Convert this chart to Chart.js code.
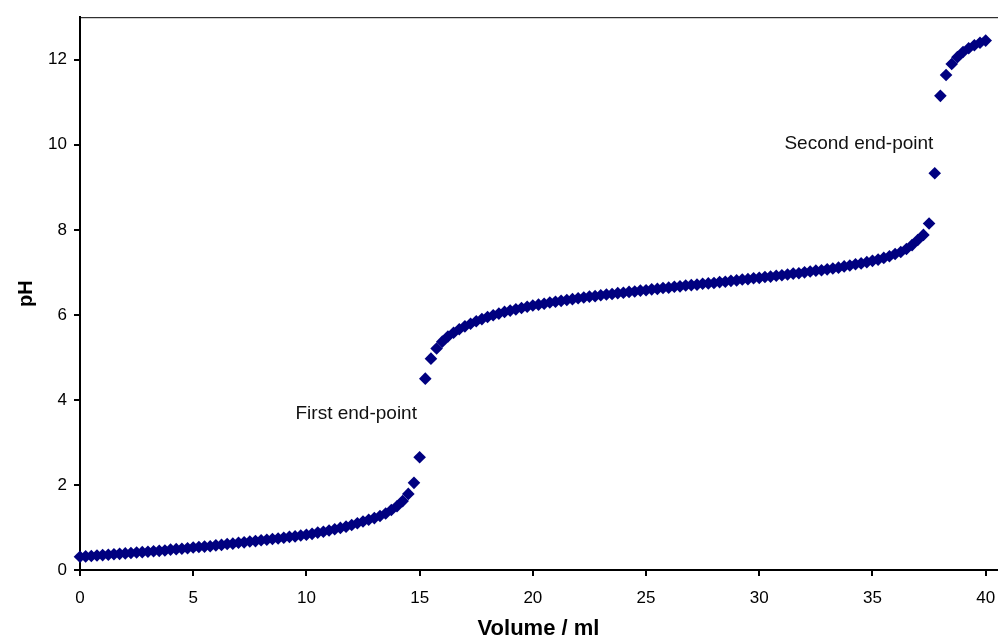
<!DOCTYPE html>
<html>
<head>
<meta charset="utf-8">
<title>pH titration curve</title>
<script src="https://cdn.jsdelivr.net/npm/chart.js@4/dist/chart.umd.min.js"></script>
<style>
  html, body { margin: 0; padding: 0; background: #fff; }
  #titration { display: block; }
</style>
</head>
<body>
<canvas id="titration" width="998" height="639"></canvas>
<script>
// volume of titrant added (ml)
const volumes = [
  0, 0.25, 0.5, 0.75, 1, 1.25, 1.5, 1.75, 2, 2.25, 2.5, 2.75, 3, 3.25, 3.5, 3.75,
  4, 4.25, 4.5, 4.75, 5, 5.25, 5.5, 5.75, 6, 6.25, 6.5, 6.75, 7, 7.25, 7.5, 7.75,
  8, 8.25, 8.5, 8.75, 9, 9.25, 9.5, 9.75, 10, 10.25, 10.5, 10.75, 11, 11.25, 11.5, 11.75,
  12, 12.25, 12.5, 12.75, 13, 13.25, 13.5, 13.75, 14, 14.25, 14.5, 14.75, 15, 15.25, 15.5, 15.75,
  16, 16.25, 16.5, 16.75, 17, 17.25, 17.5, 17.75, 18, 18.25, 18.5, 18.75, 19, 19.25, 19.5, 19.75,
  20, 20.25, 20.5, 20.75, 21, 21.25, 21.5, 21.75, 22, 22.25, 22.5, 22.75, 23, 23.25, 23.5, 23.75,
  24, 24.25, 24.5, 24.75, 25, 25.25, 25.5, 25.75, 26, 26.25, 26.5, 26.75, 27, 27.25, 27.5, 27.75,
  28, 28.25, 28.5, 28.75, 29, 29.25, 29.5, 29.75, 30, 30.25, 30.5, 30.75, 31, 31.25, 31.5, 31.75,
  32, 32.25, 32.5, 32.75, 33, 33.25, 33.5, 33.75, 34, 34.25, 34.5, 34.75, 35, 35.25, 35.5, 35.75,
  36, 36.25, 36.5, 36.75, 37, 37.25, 37.5, 37.75, 38, 38.25, 38.5, 38.75, 39, 39.25, 39.5, 39.75,
  40
];

// measured pH at each volume
const phValues = [
  0.31, 0.32, 0.33, 0.34, 0.35, 0.36, 0.37, 0.38, 0.39, 0.40, 0.41, 0.42, 0.43, 0.44, 0.45, 0.46,
  0.48, 0.49, 0.50, 0.51, 0.53, 0.54, 0.55, 0.56, 0.58, 0.59, 0.61, 0.62, 0.64, 0.65, 0.67, 0.68,
  0.70, 0.71, 0.73, 0.74, 0.76, 0.78, 0.79, 0.81, 0.83, 0.85, 0.88, 0.90, 0.93, 0.96, 0.99, 1.02,
  1.06, 1.10, 1.14, 1.18, 1.22, 1.27, 1.33, 1.41, 1.50, 1.62, 1.79, 2.05, 2.65, 4.50, 4.97, 5.21,
  5.37, 5.49, 5.58, 5.66, 5.73, 5.79, 5.85, 5.90, 5.95, 5.99, 6.03, 6.07, 6.10, 6.13, 6.16, 6.19,
  6.22, 6.24, 6.26, 6.29, 6.31, 6.33, 6.35, 6.37, 6.39, 6.41, 6.43, 6.44, 6.46, 6.48, 6.49, 6.51,
  6.52, 6.54, 6.55, 6.57, 6.58, 6.60, 6.61, 6.63, 6.64, 6.66, 6.67, 6.69, 6.70, 6.71, 6.73, 6.74,
  6.75, 6.77, 6.78, 6.80, 6.81, 6.83, 6.84, 6.86, 6.87, 6.89, 6.90, 6.92, 6.93, 6.95, 6.97, 6.98,
  7.00, 7.02, 7.04, 7.05, 7.07, 7.09, 7.11, 7.14, 7.16, 7.19, 7.21, 7.24, 7.27, 7.30, 7.34, 7.38,
  7.43, 7.48, 7.55, 7.64, 7.76, 7.88, 8.15, 9.33, 11.15, 11.64, 11.90, 12.06, 12.18, 12.27, 12.34, 12.40,
  12.45
];

const xTicks = [0, 5, 10, 15, 20, 25, 30, 35, 40];
const yTicks = [0, 2, 4, 6, 8, 10, 12];

// text labels placed in data coordinates
const noteTexts = ["First end-point", "Second end-point"];
const noteX = [12.2, 34.4];
const noteY = [3.67, 10.03];

const FONT = "'Liberation Sans', Arial, Helvetica, sans-serif";
const NAVY = "#000080";

const points = volumes.map((v, i) => ({ x: v, y: phValues[i] }));

// thin line along the top of the plot area
const topBorder = {
  id: "topBorder",
  beforeDatasetsDraw(chart) {
    const { ctx, chartArea } = chart;
    ctx.save();
    ctx.strokeStyle = "#000";
    ctx.lineWidth = 1;
    ctx.beginPath();
    ctx.moveTo(chartArea.left, chartArea.top + 0.5);
    ctx.lineTo(chart.width, chartArea.top + 0.5);
    ctx.stroke();
    ctx.restore();
  },
};

// end-point notes
const notes = {
  id: "notes",
  afterDatasetsDraw(chart) {
    const { ctx, scales } = chart;
    ctx.save();
    ctx.fillStyle = "#111";
    ctx.font = "19px " + FONT;
    ctx.textAlign = "center";
    ctx.textBaseline = "middle";
    noteTexts.forEach((t, i) => {
      ctx.fillText(t, scales.x.getPixelForValue(noteX[i]), scales.y.getPixelForValue(noteY[i]));
    });
    ctx.restore();
  },
};

new Chart(document.getElementById("titration"), {
  type: "scatter",
  data: {
    datasets: [
      {
        label: "pH",
        data: points,
        pointStyle: "rectRot",
        pointRadius: 6.3,
        pointHoverRadius: 6.3,
        backgroundColor: NAVY,
        borderColor: NAVY,
        borderWidth: 0,
        showLine: false,
        clip: false,
      },
    ],
  },
  options: {
    responsive: false,
    animation: false,
    layout: { autoPadding: false, padding: { top: 14, right: 1, left: 0, bottom: 0 } },
    plugins: {
      legend: { display: false },
      tooltip: { enabled: false },
    },
    scales: {
      x: {
        type: "linear",
        position: "bottom",
        min: 0,
        max: 40.5,
        afterBuildTicks: (s) => { s.ticks = xTicks.map((v) => ({ value: v })); },
        afterFit: (s) => {
          s.height = 69;
          s.paddingLeft = 0;
          s.paddingRight = 0;
        },
        ticks: {
          color: "#000",
          font: { family: FONT, size: 17 },
          padding: 12,
          maxRotation: 0,
        },
        grid: { drawOnChartArea: false, drawTicks: true, tickLength: 6, color: "#000", lineWidth: 2 },
        border: { display: true, color: "#000", width: 2 },
        title: {
          display: true,
          text: "Volume / ml",
          color: "#000",
          font: { family: FONT, size: 22, weight: "bold" },
          padding: { top: 0, bottom: -3 },
        },
      },
      y: {
        type: "linear",
        min: 0,
        max: 13,
        afterBuildTicks: (s) => { s.ticks = yTicks.map((v) => ({ value: v })); },
        afterFit: (s) => { s.width = 80; },
        ticks: {
          color: "#000",
          font: { family: FONT, size: 17 },
          padding: 7,
        },
        grid: { drawOnChartArea: false, drawTicks: true, tickLength: 6, color: "#000", lineWidth: 2 },
        border: { display: true, color: "#000", width: 2 },
        title: {
          display: true,
          text: "pH",
          color: "#000",
          font: { family: FONT, size: 20, weight: "bold" },
          padding: { top: 14, bottom: 0 },
        },
      },
    },
  },
  plugins: [topBorder, notes],
});
</script>
</body>
</html>
